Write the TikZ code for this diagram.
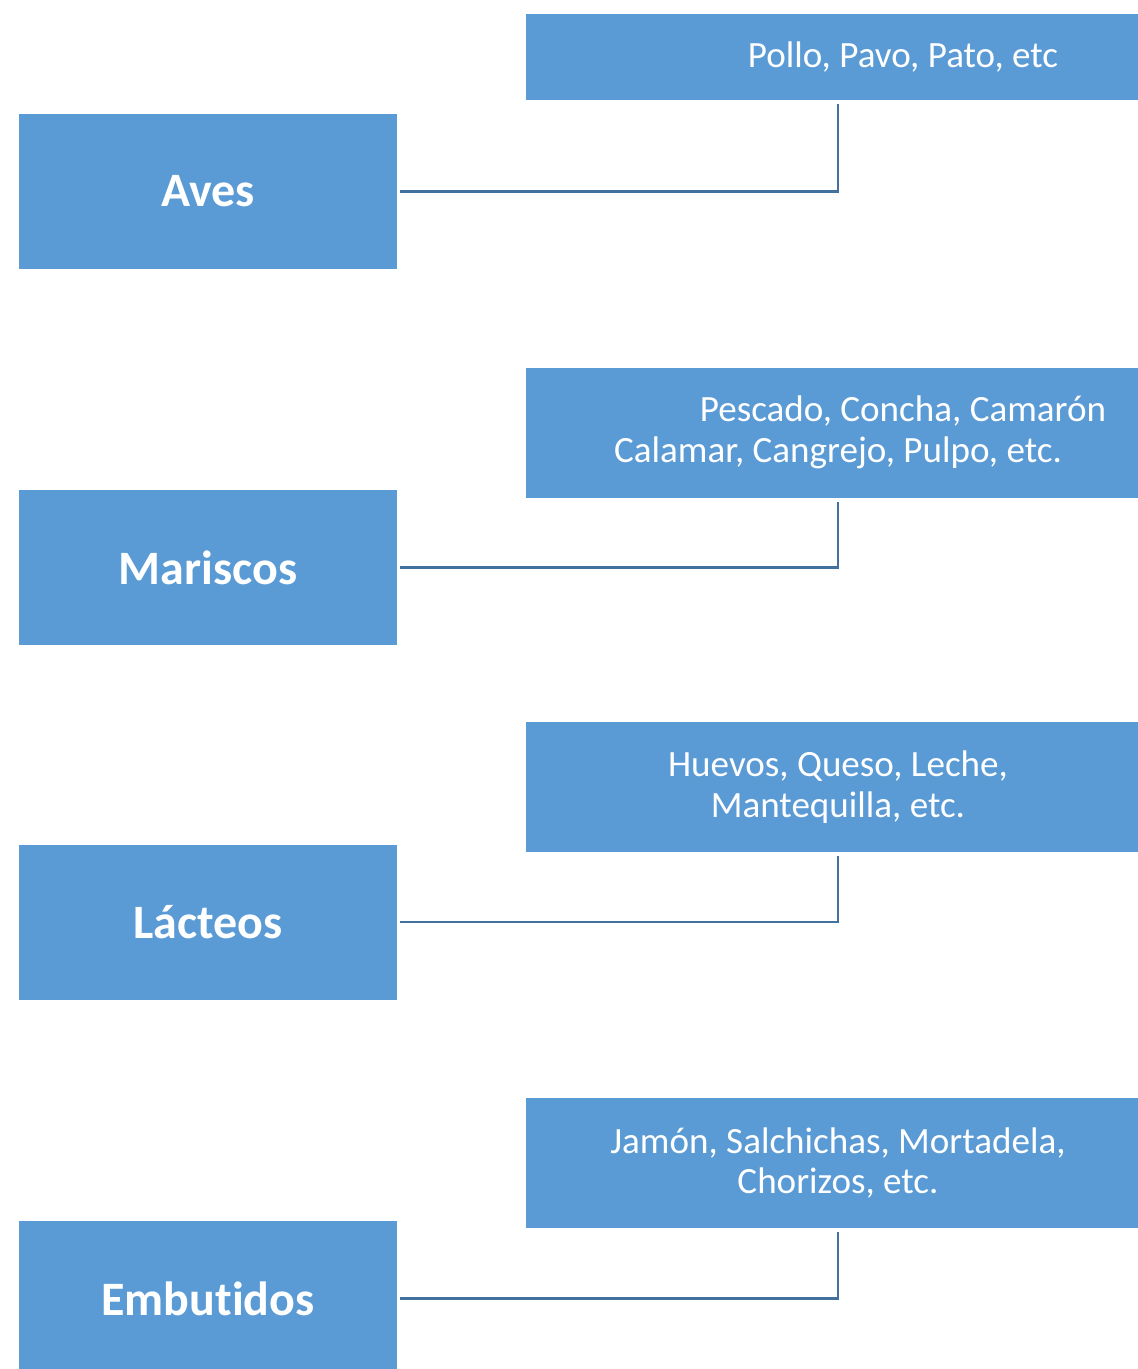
\documentclass[tikz,border=0pt]{standalone}
\usepackage{fontspec}
\setmainfont[Ligatures=NoCommon]{Carlito}
\usetikzlibrary{positioning}

\definecolor{boxblue}{HTML}{5B9BD5}
\definecolor{lineblue}{HTML}{41719C}

\begin{document}
\begin{tikzpicture}

        \tikzstyle{grupo}=[fill=boxblue, text=white, minimum width=7.56cm, minimum height=3.10cm, inner sep=0pt, font=\fontsize{27.3}{32}\selectfont\bfseries]
        \tikzstyle{ejemplo}=[fill=boxblue, text=white, minimum width=12.48cm, minimum height=2.60cm, inner sep=0pt, align=center, font=\fontsize{21.1}{23.3}\selectfont]
        \tikzstyle{enlace}=[draw=lineblue, line width=1.2pt, shorten <=0.06cm, shorten >=0.08cm]

        \useasboundingbox (0,0) rectangle (22.76,-27.38);

        \node (aves)      [grupo] at (4.16,-3.83)  {Aves};
        \node (mariscos)  [grupo] at (4.16,-11.35) {Mariscos};
        \node (lacteos)   [grupo] at (4.16,-18.44) {Lácteos};
        \node (embutidos) [grupo] at (4.16,-25.97) {Embutidos};

        \node (pollo)   [ejemplo, minimum height=1.72cm] at (16.76,-1.14) {\hspace*{2.6cm}Pollo, Pavo, Pato, etc};
        \node (pescado) [ejemplo] at (16.76,-8.65)  {\hspace*{2.6cm}Pescado, Concha, Camarón\\Calamar, Cangrejo, Pulpo, etc.};
        \node (huevos)  [ejemplo] at (16.76,-15.74) {Huevos, Queso, Leche,\\Mantequilla, etc.};
        \node (jamon)   [ejemplo] at (16.76,-23.26) {Jamón, Salchichas, Mortadela,\\Chorizos, etc.};

        \foreach \a/\b in {aves/pollo, mariscos/pescado, lacteos/huevos, embutidos/jamon}
          \draw[enlace] (\a.east) -| (\b.south);

\end{tikzpicture}
\end{document}
